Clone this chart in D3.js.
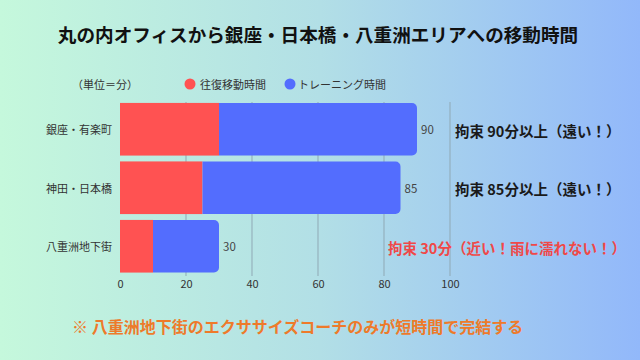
<!DOCTYPE html>
<html><head><meta charset="utf-8">
<script src="https://cdn.jsdelivr.net/npm/d3@7"></script>
<style>html,body{margin:0;padding:0;}svg{display:block;}</style>
</head><body>
<svg id="c" width="640" height="360"></svg>
<script>
const categories = ["銀座・有楽町", "神田・日本橋", "八重洲地下街"];
const travel = [30, 25, 10];
const training = [60, 60, 20];
const totals = [90, 85, 30];
const ticks = [0, 20, 40, 60, 80, 100];
const seriesNames = ["往復移動時間", "トレーニング時間"];
const notes = ["拘束 90分以上（遠い！）", "拘束 85分以上（遠い！）", "拘束 30分（近い！雨に濡れない！）"];
const title = "丸の内オフィスから銀座・日本橋・八重洲エリアへの移動時間";
const unitLabel = "（単位＝分）";
const footnote = "※ 八重洲地下街のエクササイズコーチのみが短時間で完結する";

const FONT = "'Noto Sans CJK JP','Noto Sans',sans-serif";
const svg = d3.select("#c");
const defs = svg.append("defs");
const g = defs.append("linearGradient").attr("id","bg").attr("x1","0").attr("x2","1").attr("y1","0").attr("y2","0");
g.append("stop").attr("offset","0").attr("stop-color","#c5f8dc");
g.append("stop").attr("offset","0.5").attr("stop-color","#b2dfe6");
g.append("stop").attr("offset","1").attr("stop-color","#92b8fa");
svg.append("rect").attr("width",640).attr("height",360).attr("fill","url(#bg)");

const x = d3.scaleLinear().domain([0,100]).range([120,450]);
const y = d3.scaleBand().domain(categories).range([100,275.5]).paddingInner(0.1).paddingOuter(0.05);
const colors = ["#ff5252", "#536dfe"];

// title
svg.append("text").attr("x",318).attr("y",33).attr("text-anchor","middle").attr("dominant-baseline","central")
  .attr("font-family",FONT).attr("font-weight","bold").attr("font-size",18.6).attr("fill","#111").text(title);

// unit
svg.append("text").attr("x",72).attr("y",84).attr("dominant-baseline","central")
  .attr("font-family",FONT).attr("font-size",11).attr("fill","#333").text(unitLabel);

// legend
const legX = [190, 290];
seriesNames.forEach((n,i)=>{
  svg.append("circle").attr("cx",legX[i]).attr("cy",84).attr("r",5.5).attr("fill",colors[i]);
  svg.append("text").attr("x",legX[i]+(i===0?10:8)).attr("y",84).attr("dominant-baseline","central")
    .attr("font-family",FONT).attr("font-size",11).attr("fill","#333").text(n);
});

// grid
const xAxis = d3.axisBottom(x).tickValues(ticks).tickSize(0).tickPadding(0);
svg.append("g").selectAll("line").data(ticks.filter(t=>t>0)).join("line")
  .attr("x1",d=>x(d)).attr("x2",d=>x(d)).attr("y1",102).attr("y2",276)
  .attr("stroke","#8fa9b5").attr("stroke-width",1);

const ax = svg.append("g").attr("transform","translate(0,276)").call(xAxis);
ax.select(".domain").remove();
ax.selectAll("text").attr("font-family",FONT).attr("font-size",11).attr("fill","#333").attr("dy",null)
  .attr("y",7).attr("dominant-baseline","central");

// bars
const r = 5;
categories.forEach((c,i)=>{
  const y0 = y(c), h = y.bandwidth();
  svg.append("rect").attr("x",x(0)).attr("y",y0).attr("width",x(travel[i])-x(0)).attr("height",h).attr("fill",colors[0]);
  const xs = x(travel[i]), xe = x(travel[i]+training[i]);
  const p = d3.path();
  p.moveTo(xs,y0); p.lineTo(xe-r,y0); p.arcTo(xe,y0,xe,y0+r,r); p.lineTo(xe,y0+h-r); p.arcTo(xe,y0+h,xe-r,y0+h,r); p.lineTo(xs,y0+h); p.closePath();
  svg.append("path").attr("d",p.toString()).attr("fill",colors[1]);
  svg.append("text").attr("x",xe+4).attr("y",y0+h/2).attr("dominant-baseline","central")
    .attr("font-family",FONT).attr("font-size",11.5).attr("fill","#444").text(totals[i]);
  svg.append("text").attr("x",x(0)-8).attr("y",y0+h/2).attr("text-anchor","end").attr("dominant-baseline","central")
    .attr("font-family",FONT).attr("font-size",11).attr("fill","#333").text(c);
});

// notes
const noteX = [455, 455, 388];
const noteCol = ["#1a1a1a", "#1a1a1a", "#f04848"];
categories.forEach((c,i)=>{
  svg.append("text").attr("x",noteX[i]).attr("y",y(c)+y.bandwidth()/2+1).attr("dominant-baseline","central")
    .attr("font-family",FONT).attr("font-weight","bold").attr("font-size",14.5).attr("fill",noteCol[i]).text(notes[i]);
});

// footnote
svg.append("text").attr("x",72).attr("y",326).attr("dominant-baseline","central")
  .attr("font-family",FONT).attr("font-weight","bold").attr("font-size",16).attr("fill","#ee7a2a").text(footnote);
</script>
</body></html>
